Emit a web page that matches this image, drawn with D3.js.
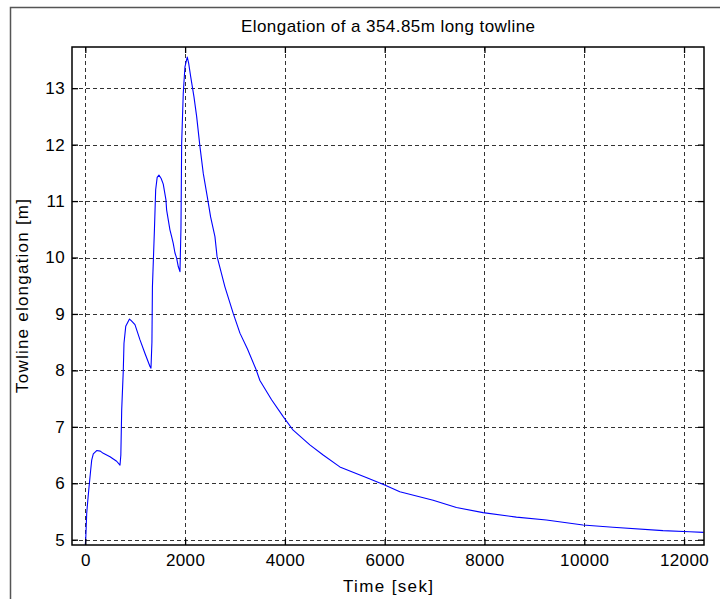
<!DOCTYPE html>
<html>
<head>
<meta charset="utf-8">
<script src="https://cdn.jsdelivr.net/npm/d3@7/dist/d3.min.js"></script>
<style>
  html, body { margin: 0; padding: 0; background: #ffffff; }
  svg { display: block; }
  text { font-family: "Liberation Sans", Arial, sans-serif; fill: #000; }
</style>
</head>
<body>
<svg id="chart" width="720" height="599"></svg>
<script>
// Towline elongation over time
const timeSek = [0, 8, 28, 50, 74, 108, 128, 160, 228, 300, 360, 495, 561, 628, 695,
  712, 729, 761, 775, 810, 885, 920, 995, 1096, 1196, 1296, 1316,
  1335, 1345, 1385, 1410, 1440, 1476, 1520, 1562, 1616, 1630, 1696, 1730, 1762, 1797, 1830, 1863, 1897,
  1917, 1931, 1963, 1997, 2043, 2070, 2111, 2177, 2231, 2297, 2364, 2444, 2511, 2598, 2640,
  2798, 2964, 3099, 3250, 3420, 3499, 3733, 3966, 4166, 4500, 4767, 5101, 5668, 6000, 6303,
  6971, 7438, 7971, 8640, 9241, 9974, 10575, 11577, 12111, 12391];
const elongation = [4.92, 5.0, 5.47, 5.7, 5.93, 6.24, 6.41, 6.52, 6.58, 6.57, 6.53, 6.47, 6.43, 6.39, 6.32,
  6.5, 7.3, 8.0, 8.48, 8.78, 8.91, 8.88, 8.81, 8.54, 8.30, 8.07, 8.04,
  8.5, 9.48, 10.49, 11.2, 11.42, 11.46, 11.4, 11.3, 11.02, 10.84, 10.49, 10.37, 10.25, 10.08, 9.99, 9.84, 9.75,
  10.52, 12.03, 12.91, 13.38, 13.55, 13.45, 13.21, 12.85, 12.50, 11.97, 11.49, 11.08, 10.72, 10.37, 10.02,
  9.48, 9.01, 8.66, 8.38, 8.02, 7.82, 7.48, 7.18, 6.94, 6.68, 6.50, 6.29, 6.09, 5.97, 5.85,
  5.70, 5.57, 5.48, 5.40, 5.35, 5.26, 5.22, 5.16, 5.14, 5.13];
const xTicks = [0, 2000, 4000, 6000, 8000, 10000, 12000];
const yTicks = [5, 6, 7, 8, 9, 10, 11, 12, 13];
const titleText = "Elongation of a 354.85m long towline";
const xLabelText = "Time [sek]";
const yLabelText = "Towline elongation [m]";

const svg = d3.select("#chart");
const plot = { left: 72, top: 47, right: 704, bottom: 545 };

// outer figure frame
svg.append("rect")
  .attr("x", 10.5).attr("y", 7.5)
  .attr("width", 730).attr("height", 620)
  .attr("fill", "#fff").attr("stroke", "#555").attr("stroke-width", 1.5);

const x = d3.scaleLinear().domain([-267, 12400]).range([plot.left, plot.right]);
const y = d3.scaleLinear().domain([4.906, 13.73]).range([plot.bottom, plot.top]);

const g = svg.append("g");

// dashed grid
const grid = g.append("g").attr("stroke", "#333").attr("stroke-width", 1)
  .attr("stroke-dasharray", "4,3").attr("shape-rendering", "crispEdges");
grid.selectAll("line.gx").data(xTicks).join("line")
  .attr("x1", d => Math.round(x(d)) + 0.5).attr("x2", d => Math.round(x(d)) + 0.5)
  .attr("y1", plot.top).attr("y2", plot.bottom);
grid.selectAll("line.gy").data(yTicks).join("line")
  .attr("y1", d => Math.round(y(d)) + 0.5).attr("y2", d => Math.round(y(d)) + 0.5)
  .attr("x1", plot.left).attr("x2", plot.right);

// data line
const line = d3.line().x((d, i) => x(timeSek[i])).y(d => y(d));
g.append("path")
  .datum(elongation)
  .attr("fill", "none")
  .attr("stroke", "#0000ff")
  .attr("stroke-width", 1.1)
  .attr("stroke-linejoin", "round")
  .attr("d", line);

// axes with inward ticks
const fs = 17;
const bottomAxis = g.append("g").attr("transform", `translate(0,${plot.bottom})`)
  .call(d3.axisBottom(x).tickValues(xTicks).tickSize(-6).tickPadding(9).tickFormat(d3.format("d")));
const topAxis = g.append("g").attr("transform", `translate(0,${plot.top})`)
  .call(d3.axisTop(x).tickValues(xTicks).tickSize(-6).tickFormat(""));
const leftAxis = g.append("g").attr("transform", `translate(${plot.left},0)`)
  .call(d3.axisLeft(y).tickValues(yTicks).tickSize(-6).tickPadding(7).tickFormat(d3.format("d")));
const rightAxis = g.append("g").attr("transform", `translate(${plot.right},0)`)
  .call(d3.axisRight(y).tickValues(yTicks).tickSize(-6).tickFormat(""));

[bottomAxis, topAxis, leftAxis, rightAxis].forEach(a => {
  a.select(".domain").remove();
  a.selectAll("line").attr("stroke", "#000").attr("stroke-width", 1.3);
  a.selectAll("text").attr("font-size", fs).attr("letter-spacing", 0.4)
    .attr("font-family", "Liberation Sans, Arial, sans-serif").attr("fill", "#000");
});

// axes box
g.append("rect")
  .attr("x", plot.left).attr("y", plot.top)
  .attr("width", plot.right - plot.left).attr("height", plot.bottom - plot.top)
  .attr("fill", "none").attr("stroke", "#000").attr("stroke-width", 1.5);

// title and labels
svg.append("text")
  .attr("x", (plot.left + plot.right) / 2).attr("y", 32)
  .attr("text-anchor", "middle").attr("font-size", fs)
  .attr("textLength", 294).attr("lengthAdjust", "spacing")
  .text(titleText);
svg.append("text")
  .attr("x", (plot.left + plot.right) / 2).attr("y", 592)
  .attr("text-anchor", "middle").attr("font-size", fs)
  .attr("textLength", 90).attr("lengthAdjust", "spacing")
  .text(xLabelText);
svg.append("text")
  .attr("transform", `translate(28,${(plot.top + plot.bottom) / 2}) rotate(-90)`)
  .attr("text-anchor", "middle").attr("font-size", fs)
  .attr("textLength", 194).attr("lengthAdjust", "spacing")
  .text(yLabelText);
</script>
</body>
</html>
